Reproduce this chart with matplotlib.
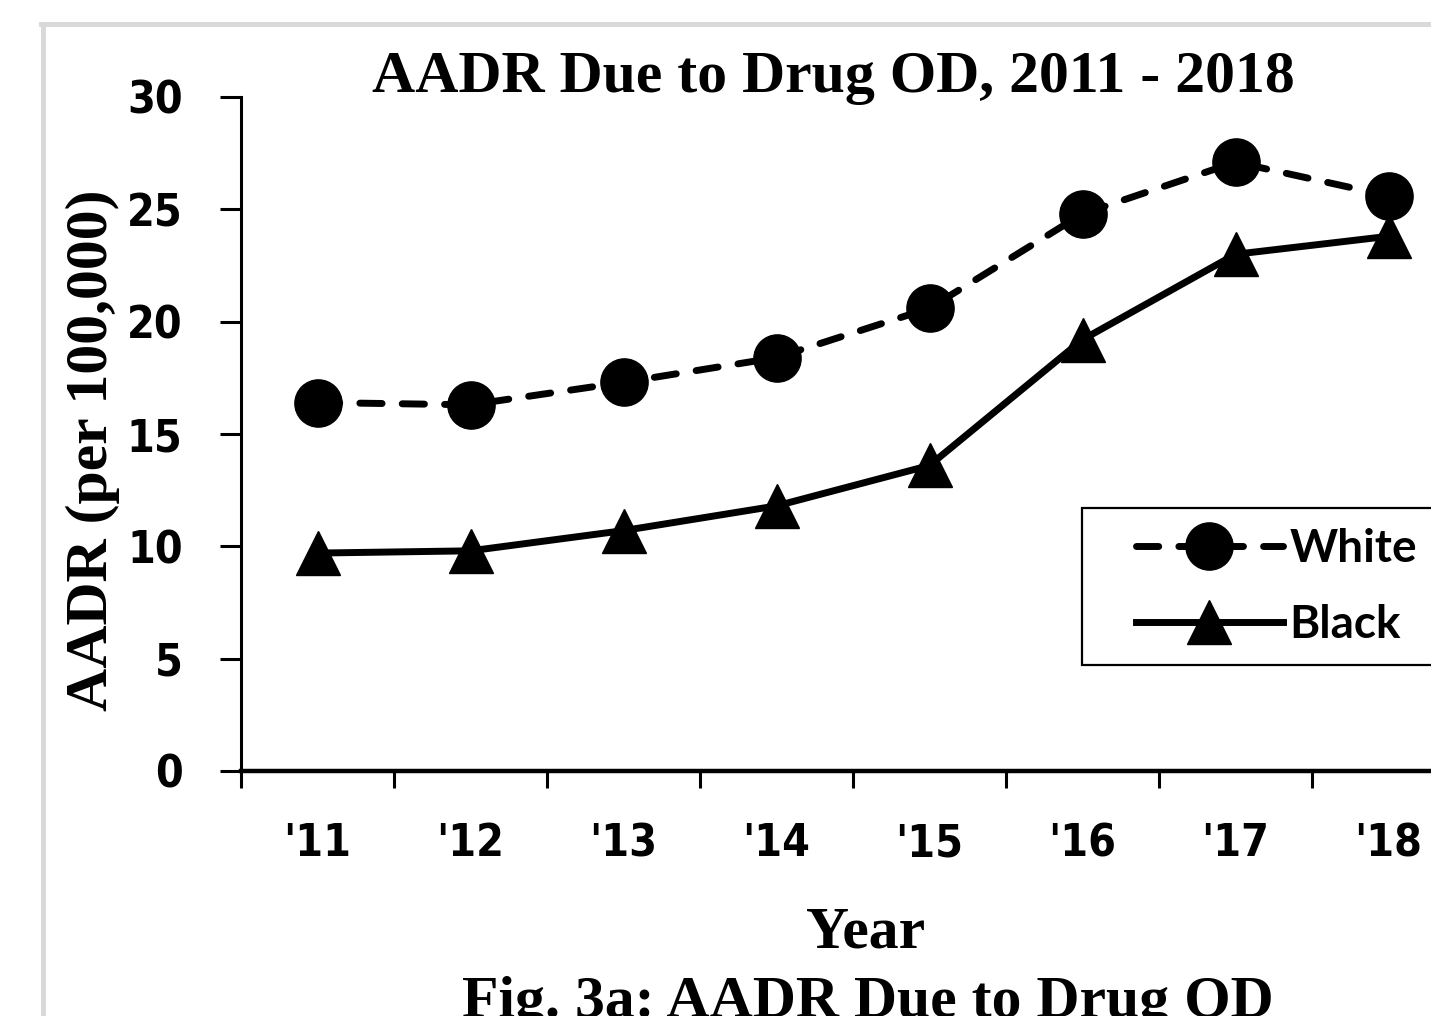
import matplotlib
matplotlib.use('Agg')
import matplotlib.pyplot as plt
from matplotlib import font_manager
from matplotlib.lines import Line2D
from matplotlib.patches import Rectangle

# data
years = ["'11", "'12", "'13", "'14", "'15", "'16", "'17", "'18"]
white = [16.4, 16.3, 17.3, 18.4, 20.6, 24.8, 27.1, 25.6]
black = [9.7, 9.8, 10.7, 11.8, 13.6, 19.2, 23.0, 23.8]
y_ticks = [0, 5, 10, 15, 20, 25, 30]

fonts = font_manager.fontManager.ttflist
names = {f.name for f in fonts}
# narrow bold sans for the tick labels, whatever is installed
if 'Liberation Sans Narrow' in names:
    TICK = dict(family='Liberation Sans Narrow', size=39)
elif any(f.name == 'DejaVu Sans' and f.stretch == 'condensed' for f in fonts):
    TICK = dict(family='DejaVu Sans', stretch='condensed', size=32)
else:
    TICK = dict(family='Liberation Sans', size=33)
SERIF = 'Liberation Serif'
LEG_FONT = 'Lato' if 'Lato' in names else 'DejaVu Sans'

W, H = 1431, 1016
fig = plt.figure(figsize=(W / 100, H / 100), dpi=100)
fig.patch.set_facecolor('white')

# light grey page frame (top and left edges visible)
fig.add_artist(Line2D([43 / W, 43 / W], [1 - 24 / H, -0.01], color='#d9d9d9', lw=3.6))
fig.add_artist(Line2D([41 / W, 1.01], [1 - 24 / H, 1 - 24 / H], color='#d9d9d9', lw=3.6))

# axes run past the right edge of the picture
ax = fig.add_axes((241 / W, 245 / H, 1224 / W, 674 / H))
x = list(range(len(years)))

ax.plot(x, white, color='black', lw=5, linestyle=(0, (3.2, 2.9)),
        dash_capstyle='round', marker='o', markersize=34, label='White')
ax.plot(x, black, color='black', lw=5, marker='^', markersize=32,
        label='Black')

ax.set_xlim(-0.5, len(years) - 0.5)
ax.set_ylim(0, 30)
ax.set_yticks(y_ticks)
ax.set_xticks(x)
ax.set_xticklabels(years)
ax.set_xticks([i - 0.5 for i in range(len(years) + 1)], minor=True)

for s in ['top', 'right']:
    ax.spines[s].set_visible(False)
ax.spines['left'].set_linewidth(2.2)
ax.spines['bottom'].set_linewidth(3.2)

ax.tick_params(axis='y', direction='out', length=15, width=2.2, pad=27)
ax.tick_params(axis='x', which='major', length=0, pad=37)
ax.tick_params(axis='x', which='minor', direction='out', length=12, width=2.2)
for lab in ax.get_xticklabels() + ax.get_yticklabels():
    lab.set_fontfamily(TICK['family'])
    lab.set_fontsize(TICK['size'])
    lab.set_fontweight('bold')
    if 'stretch' in TICK:
        lab.set_fontstretch(TICK['stretch'])

# legend box (frame drawn separately so it runs off the edge like the reference)
ax.add_patch(Rectangle(((1082 - 241) / 1224, (771 - 665) / 674), 0.4, 157 / 674,
                       transform=ax.transAxes, facecolor='white', edgecolor='black',
                       lw=1.6, clip_on=False, zorder=4))
leg = ax.legend(loc='center left', bbox_to_anchor=((1136 - 241) / 1224, (771 - 587) / 674),
                frameon=False, borderpad=0, borderaxespad=0, handlelength=3.2,
                handletextpad=0.15, labelspacing=0.75,
                prop={'family': LEG_FONT, 'weight': 'bold', 'size': 33})
leg.set_zorder(5)

fig.text(833 / W, 1 - 92 / H, 'AADR Due to Drug OD, 2011 - 2018', ha='center',
         va='baseline', fontsize=43, fontweight='bold', family=SERIF)
fig.text(107 / W, 1 - 450 / H, 'AADR (per 100,000)', rotation=90, rotation_mode='anchor',
         ha='center', va='baseline', fontsize=43, fontweight='bold', family=SERIF)
fig.text(866 / W, 1 - 948 / H, 'Year', ha='center', va='baseline',
         fontsize=43, fontweight='bold', family=SERIF)
fig.text(868 / W, 1 - 1017 / H, 'Fig. 3a: AADR Due to Drug OD', ha='center',
         va='baseline', fontsize=43, fontweight='bold', family=SERIF)

fig.savefig('out.png', dpi=100, facecolor='white')
